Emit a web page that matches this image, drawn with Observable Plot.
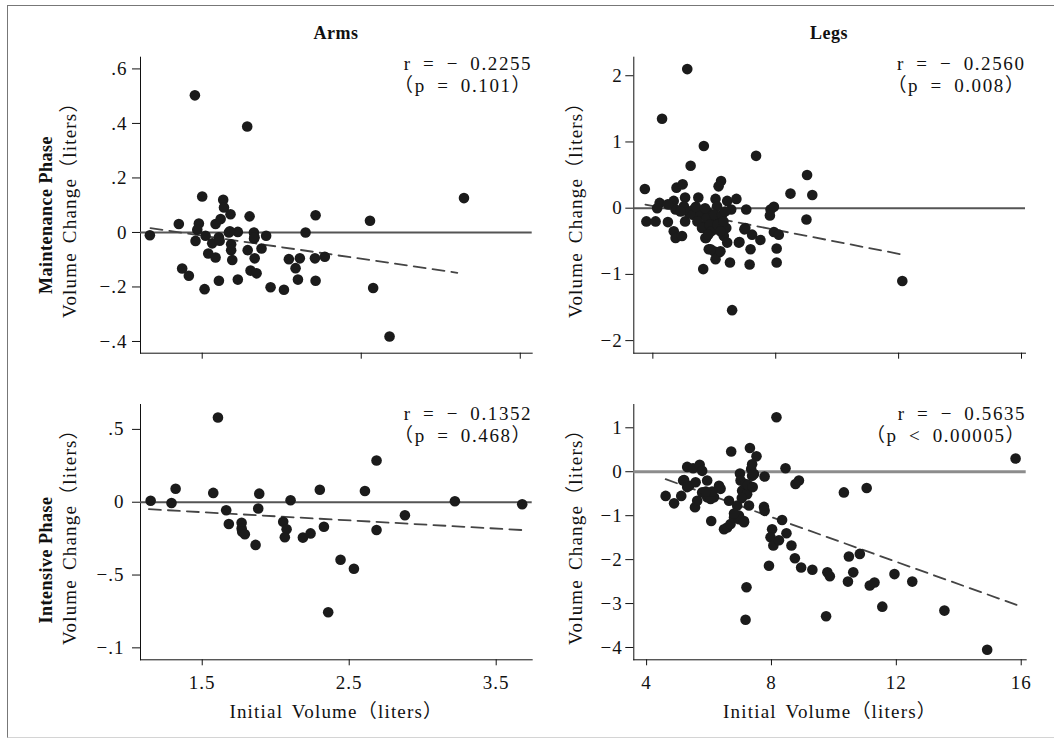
<!DOCTYPE html>
<html>
<head>
<meta charset="utf-8">
<script src="https://cdn.jsdelivr.net/npm/d3@7"></script>
<script src="https://cdn.jsdelivr.net/npm/@observablehq/plot@0.6"></script>
<style>
  html, body { margin: 0; padding: 0; background: #fff; }
  #chart { position: relative; width: 1054px; height: 738px; background: #fff; overflow: hidden;
           font-family: "Liberation Serif", "Noto Sans CJK JP", serif; color: #111; }
  .frame { position: absolute; left: 7px; top: 5px; width: 1060px; height: 731px;
           border-top: 1.5px solid #777; border-left: 1.5px solid #777; border-bottom: 1px solid #d4d4d4; }
  .title { position: absolute; font-weight: bold; font-size: 18px; transform: translate(-50%, -50%); white-space: nowrap; letter-spacing: 0.5px; }
  .row { position: absolute; font-weight: bold; font-size: 18px; transform: translate(-50%, -50%) rotate(-90deg); white-space: nowrap; letter-spacing: 0.5px; }
  .panel { position: absolute; }
  .panel svg, .panel svg text, .panel svg g { font-family: "Liberation Serif", "Noto Sans CJK JP", serif !important; }
  .panel svg text { letter-spacing: 1px; word-spacing: 3px; }
  .panel svg g[aria-label="x-axis label"] text,
  .panel svg g[aria-label="y-axis label"] text { font-size: 19px; letter-spacing: 1.2px; }
  .panel svg g[aria-label="x-axis tick label"] text,
  .panel svg g[aria-label="y-axis tick label"] text { font-size: 19px; letter-spacing: 1px; }
  .panel svg g[aria-label="text"] text { letter-spacing: 1.6px; word-spacing: 5px; }
</style>
</head>
<body>
<div id="chart">
  <div class="frame"></div>
</div>
<script>
// ---------------- DATA ----------------
const columnTitles = ["Arms", "Legs"];
const rowTitles = ["Maintenance Phase", "Intensive Phase"];
const xAxisTitle = "Initial Volume（liters）";
const yAxisTitle = "Volume Change（liters）";

// Arms – Maintenance phase
const armsMaintX = [1.171,1.454,1.783,3.146,1.500,1.632,1.637,1.678,1.798,2.213,2.555,1.353,1.479,1.469,1.584,1.616,1.668,1.724,1.825,1.902,2.150,1.458,1.521,1.563,1.605,1.682,1.682,1.826,1.786,1.873,1.538,1.584,1.689,1.830,2.045,2.114,2.209,2.271,2.087,1.374,1.416,1.804,1.842,1.605,1.724,2.102,2.213,1.515,1.930,2.014,2.575,2.678,1.674,1.829,1.610];
const armsMaintY = [-0.010,0.503,0.389,0.126,0.132,0.120,0.092,0.067,0.059,0.063,0.043,0.031,0.033,0.010,0.031,0.049,0.000,0.002,0.000,-0.012,0.000,-0.031,-0.012,-0.040,-0.018,-0.043,-0.065,-0.022,-0.065,-0.059,-0.077,-0.092,-0.101,-0.095,-0.098,-0.095,-0.095,-0.089,-0.131,-0.132,-0.159,-0.140,-0.150,-0.177,-0.173,-0.173,-0.177,-0.208,-0.201,-0.210,-0.204,-0.382,0.004,-0.018,-0.030];
const armsMaintFitX = [1.175, 3.104];
const armsMaintFitY = [0.016, -0.148];
const armsMaintStats = ["r = − 0.2255", "（p = 0.101）"];

// Legs – Maintenance phase
const legsMaintX = [5.12,4.30,5.66,7.36,5.23,9.02,3.74,8.48,9.19,9.00,12.12,6.58,5.64,6.51,7.15,8.03,8.03,7.18,7.94,8.10,7.83,7.94,7.81,7.04,7.50,6.82,6.98,7.23,3.79,4.09,4.22,4.14,4.49,4.68,4.74,4.95,5.05,4.77,4.97,4.68,4.74,5.05,5.48,5.33,5.54,5.65,5.73,6.04,6.09,6.22,6.14,6.42,6.72,6.55,5.99,5.82,6.17,6.39,6.01,6.31,5.82,5.99,6.15,6.04,6.42,5.43,5.17,5.01,4.49,6.20,5.88,5.71,6.80,7.01,5.20,5.30,5.45,5.55,5.60,5.75,5.85,5.90,6.00,6.10,6.25,6.30,5.40,5.70,6.20,5.80,6.35,4.90];
const legsMaintY = [2.10,1.35,0.94,0.79,0.64,0.50,0.29,0.22,0.20,-0.17,-1.10,-1.54,-0.92,-0.82,-0.85,-0.82,-0.61,-0.62,-0.36,-0.40,-0.02,0.02,-0.11,-0.02,-0.48,-0.51,-0.32,-0.40,-0.20,-0.20,0.08,0.00,-0.21,-0.35,-0.45,-0.42,-0.20,0.31,0.36,0.11,-0.02,0.16,0.16,-0.02,-0.12,-0.27,-0.45,0.14,0.03,0.41,0.33,0.11,0.14,-0.02,-0.17,-0.07,-0.22,-0.30,-0.32,-0.42,-0.62,-0.65,-0.67,-0.77,-0.52,-0.12,-0.07,0.03,0.06,-0.65,-0.62,-0.45,-0.52,-0.30,-0.05,-0.10,-0.20,-0.05,-0.30,-0.15,-0.25,-0.35,-0.10,-0.25,-0.10,-0.20,0.02,0.00,-0.35,-0.40,-0.05,-0.05];
const legsMaintFitX = [3.76, 12.12];
const legsMaintFitY = [0.055, -0.70];
const legsMaintStats = ["r = − 0.2560", "（p = 0.008）"];

// Arms – Intensive phase
const armsIntX = [1.149,1.291,1.319,1.607,1.575,1.663,1.681,1.768,1.768,1.772,1.790,1.863,1.881,1.888,2.051,2.074,2.062,2.101,2.185,2.237,2.300,2.328,2.357,2.441,2.532,2.607,2.686,2.686,2.879,3.219,3.677];
const armsIntY = [0.010,-0.005,0.093,0.582,0.064,-0.055,-0.150,-0.141,-0.180,-0.202,-0.220,-0.293,-0.043,0.059,-0.134,-0.186,-0.241,0.014,-0.243,-0.214,0.086,-0.168,-0.755,-0.395,-0.457,0.077,0.286,-0.191,-0.089,0.007,-0.014];
const armsIntFitX = [1.137, 3.677];
const armsIntFitY = [-0.048, -0.191];
const armsIntStats = ["r = − 0.1352", "（p = 0.468）"];

// Legs – Intensive phase
const legsIntX = [8.16,15.82,6.71,7.31,7.52,8.45,4.61,4.88,5.11,5.20,5.30,5.49,5.70,5.78,5.36,5.57,5.55,5.62,5.94,5.78,5.94,6.16,6.07,6.32,6.37,6.48,6.58,6.64,6.69,6.80,6.90,6.99,7.01,6.96,7.12,7.06,7.17,7.22,7.28,7.35,7.38,7.38,7.20,7.17,7.78,7.76,7.78,7.92,8.02,7.97,8.06,8.24,8.34,8.48,8.64,8.75,8.77,8.88,8.95,9.31,9.79,9.87,9.75,10.32,10.48,10.45,10.62,10.83,11.05,11.15,11.30,11.55,11.94,12.51,13.54,14.91,5.17,6.05,6.96,7.44,7.12,6.10,5.30,7.25,7.40,6.80,7.05,5.90];
const legsIntY = [1.24,0.30,0.46,0.54,0.35,0.08,-0.55,-0.72,-0.55,-0.19,0.11,0.08,0.16,0.02,-0.32,-0.24,-0.81,-0.66,-0.20,-0.47,-0.58,-0.58,-1.12,-0.32,-0.39,-1.31,-1.27,-0.66,-1.19,-1.04,-0.77,-0.04,-0.20,-1.08,-1.12,-0.43,-0.28,-0.51,-0.77,0.06,-0.09,0.17,-2.63,-3.37,-0.11,-0.80,-0.89,-2.14,-1.31,-1.49,-1.68,-1.56,-1.10,-1.40,-1.68,-1.97,-0.28,-0.20,-2.18,-2.23,-2.29,-2.38,-3.29,-0.47,-1.93,-2.50,-2.29,-1.87,-0.37,-2.59,-2.52,-3.07,-2.33,-2.50,-3.16,-4.05,-0.20,-0.62,-1.00,-0.05,-1.15,-0.45,-0.35,-0.30,-0.35,-0.95,-0.60,-0.45];
const legsIntFitX = [4.61, 15.85];
const legsIntFitY = [-0.17, -3.03];
const legsIntStats = ["r = − 0.5635", "（p < 0.00005）"];

// Tick values and tick labels
const armsXTicks = [1.5, 2.5, 3.5];
const armsXTickLabels = ["1.5", "2.5", "3.5"];
const legsXTicks = [4, 8, 12, 16];
const legsXTickLabels = ["4", "8", "12", "16"];
const armsMaintYTicks = [0.6, 0.4, 0.2, 0, -0.2, -0.4];
const armsMaintYTickLabels = [".6", ".4", ".2", "0", "−.2", "−.4"];
const legsMaintYTicks = [2, 1, 0, -1, -2];
const legsMaintYTickLabels = ["2", "1", "0", "−1", "−2"];
const armsIntYTicks = [0.5, 0, -0.5, -1];
const armsIntYTickLabels = [".5", "0", "−.5", "−.1"];
const legsIntYTicks = [1, 0, -1, -2, -3, -4];
const legsIntYTickLabels = ["1", "0", "−1", "−2", "−3", "−4"];

// ---------------- DRAW ----------------
const FONT = '"Liberation Serif", "Noto Sans CJK JP", serif';
const chart = document.getElementById("chart");

function zip(xs, ys) { return xs.map((x, i) => ({x, y: ys[i]})); }

function panel(o) {
  const pts = zip(o.xs, o.ys);
  const fit = zip(o.fitX, o.fitY);
  const fmt = (ticks, labels) => d => { const i = ticks.findIndex(t => Math.abs(t - d) < 1e-9); return i < 0 ? "" : labels[i]; };
  const svg = Plot.plot({
    width: o.width, height: o.height,
    marginLeft: o.ml, marginRight: o.mr, marginTop: o.mt, marginBottom: o.mb,
    style: {fontFamily: FONT, fontSize: "18px", background: "transparent", color: "#111", overflow: "visible"},
    x: {domain: o.xDomain, ticks: o.xTicks, tickFormat: o.showX ? fmt(o.xTicks, o.xLabels) : () => "",
        tickSize: 6, tickPadding: 10, line: true,
        label: o.showX ? xAxisTitle : null, labelAnchor: "center", labelOffset: o.xLabelOffset, labelArrow: "none"},
    y: {domain: o.yDomain, ticks: o.yTicks, tickFormat: fmt(o.yTicks, o.yLabels),
        tickSize: 8, tickPadding: o.yPad, line: true,
        label: yAxisTitle, labelAnchor: "center", labelOffset: o.yLabelOffset, labelArrow: "none"},
    marks: [
      Plot.ruleY([0], {stroke: o.zeroStroke, strokeWidth: o.zeroWidth}),
      Plot.line(fit, {x: "x", y: "y", stroke: "#444", strokeWidth: 1.8, strokeDasharray: "12,7"}),
      Plot.dot(pts, {x: "x", y: "y", r: 5.3, fill: "#1b1b1b", stroke: "none"}),
      Plot.text([o.stats[0]], {frameAnchor: "top-right", text: d => d, textAnchor: "end", lineAnchor: "middle", fontSize: 19, dx: 0, dy: o.statsDy, fill: "#111"}),
      Plot.text([o.stats[1]], {frameAnchor: "top-right", text: d => d, textAnchor: "end", lineAnchor: "middle", fontSize: 19, dx: 0, dy: o.statsDy + 22, fill: "#111"})
    ]
  });
  const div = document.createElement("div");
  div.className = "panel";
  div.style.left = o.left + "px";
  div.style.top = o.top + "px";
  div.appendChild(svg);
  chart.appendChild(div);
}

// Column titles
[[columnTitles[0], 336, 33], [columnTitles[1], 829, 33]].forEach(([t, x, y]) => {
  const d = document.createElement("div"); d.className = "title"; d.textContent = t;
  d.style.left = x + "px"; d.style.top = y + "px"; chart.appendChild(d);
});
// Row titles
[[rowTitles[0], 46, 215], [rowTitles[1], 46, 560]].forEach(([t, x, y]) => {
  const d = document.createElement("div"); d.className = "row"; d.textContent = t;
  d.style.left = x + "px"; d.style.top = y + "px"; chart.appendChild(d);
});

panel({left: 0, top: 0, width: 545, height: 380, ml: 140, mr: 13.3, mt: 56.7, mb: 27.3,
  xs: armsMaintX, ys: armsMaintY, fitX: armsMaintFitX, fitY: armsMaintFitY, stats: armsMaintStats, statsDy: 6.5,
  xDomain: [1.112, 3.575], yDomain: [-0.443, 0.643],
  xTicks: armsXTicks, xLabels: armsXTickLabels, yTicks: armsMaintYTicks, yLabels: armsMaintYTickLabels,
  showX: false, yPad: 5, yLabelOffset: 78, xLabelOffset: 40, zeroStroke: "#555", zeroWidth: 2});

panel({left: 545, top: 0, width: 509, height: 380, ml: 88.3, mr: 29, mt: 56.7, mb: 27.3,
  xs: legsMaintX, ys: legsMaintY, fitX: legsMaintFitX, fitY: legsMaintFitY, stats: legsMaintStats, statsDy: 6.5,
  xDomain: [3.38, 16.13], yDomain: [-2.19, 2.28],
  xTicks: legsXTicks, xLabels: legsXTickLabels, yTicks: legsMaintYTicks, yLabels: legsMaintYTickLabels,
  showX: false, yPad: 3, yLabelOffset: 65, xLabelOffset: 40, zeroStroke: "#555", zeroWidth: 2});

panel({left: 0, top: 380, width: 545, height: 358, ml: 140, mr: 13.3, mt: 24, mb: 78.7,
  xs: armsIntX, ys: armsIntY, fitX: armsIntFitX, fitY: armsIntFitY, stats: armsIntStats, statsDy: 9,
  xDomain: [1.08, 3.745], yDomain: [-1.082, 0.671],
  xTicks: armsXTicks, xLabels: armsXTickLabels, yTicks: armsIntYTicks, yLabels: armsIntYTickLabels,
  showX: true, yPad: 8, yLabelOffset: 78, xLabelOffset: 58, zeroStroke: "#555", zeroWidth: 2});

panel({left: 545, top: 380, width: 509, height: 358, ml: 88.3, mr: 28.3, mt: 24, mb: 78.7,
  xs: legsIntX, ys: legsIntY, fitX: legsIntFitX, fitY: legsIntFitY, stats: legsIntStats, statsDy: 9,
  xDomain: [3.59, 16.16], yDomain: [-4.28, 1.53],
  xTicks: legsXTicks, xLabels: legsXTickLabels, yTicks: legsIntYTicks, yLabels: legsIntYTickLabels,
  showX: true, yPad: 3, yLabelOffset: 65, xLabelOffset: 58, zeroStroke: "#8c8c8c", zeroWidth: 3});
</script>
</body>
</html>
